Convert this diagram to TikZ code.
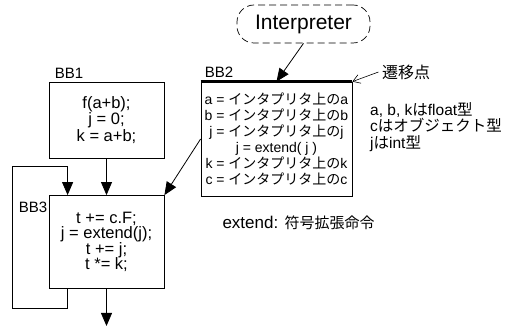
\documentclass[tikz,border=0pt]{standalone}
\usepackage{fontspec}
\setmainfont{Liberation Sans}
\newfontfamily\cjk{Noto Sans CJK JP}
\usetikzlibrary{arrows.meta}
\begin{document}
\begin{tikzpicture}[x=1pt,y=-1pt,
  box/.style={draw, line width=0.8pt, inner sep=0pt, align=center},
  lbl/.style={font=\fontsize{15}{15}\selectfont},
  arr/.style={line width=0.8pt, -{Triangle[length=13pt,width=11pt]}},
  barb/.style={line width=0.6pt, -{Straight Barb[length=7pt,width=9pt]}}]
\useasboundingbox (0,0) rectangle (515,328);

% basic blocks
\node[box, minimum width=115pt, minimum height=76pt,
      font=\fontsize{16.5}{16.5}\selectfont] (bb1) at (106.5,120)
  {f(a+b);\\ j = 0;\\ k = a+b;};
\node[box, minimum width=151pt, minimum height=114pt,
      font=\fontsize{14}{16}\selectfont] (bb2) at (276.5,139)
  {a = {\cjk インタプリタ上の}a\\
   b = {\cjk インタプリタ上の}b\\
   j = {\cjk インタプリタ上の}j\\
   j = extend( j )\\
   k = {\cjk インタプリタ上の}k\\
   c = {\cjk インタプリタ上の}c};
\draw[line width=3pt] (bb2.north west) -- (bb2.north east);
\node[box, minimum width=115pt, minimum height=93pt,
      font=\fontsize{16.5}{15.5}\selectfont] (bb3) at (106.5,242)
  {t += c.F;\\ j = extend(j);\\ t += j;\\ t *= k;};

% interpreter
\node[draw, line width=0.7pt, dash pattern=on 7pt off 4pt, rounded corners=17pt,
      minimum width=133pt, minimum height=38pt,
      font=\fontsize{21}{21}\selectfont] (interp) at (303.5,24) {Interpreter};

% labels
\node[lbl] (l1) at (69,73) {BB1};
\node[lbl] (l2) at (219,72) {BB2};
\node[lbl] (l3) at (33,207) {BB3};
\node[font=\cjk\fontsize{16}{16}\selectfont] (trans) at (406,72) {遷移点};
\node[anchor=west, align=left, inner sep=0pt, font=\fontsize{15.5}{16.5}\selectfont] (types) at (370,127)
  {a, b, k{\cjk は}float{\cjk 型}\\ c{\cjk はオブジェクト型}\\ j{\cjk は}int{\cjk 型}};
\node[anchor=west] (ext) at (219,223)
  {\fontsize{17}{17}\selectfont extend: {\cjk\fontsize{15}{15}\selectfont 符号拡張命令}};

% connectors
\coordinate (lb) at (12,308);
\coordinate (lt) at (12,166);
\coordinate (out) at (106.5,326);
\draw[arr] (bb1.south) -- (bb3.north);
\draw[arr] (bb2.west) -- (bb3.north east);
\draw[arr] (interp.south) -- (bb2.north);
\draw[barb] (trans.west) -- (bb2.north east);
\draw[arr] ([xshift=19pt]bb3.south west) |- (lb) -- (lt) -| ([xshift=19pt]bb3.north west);
\draw[arr] (bb3.south) -- (out);
\end{tikzpicture}
\end{document}
